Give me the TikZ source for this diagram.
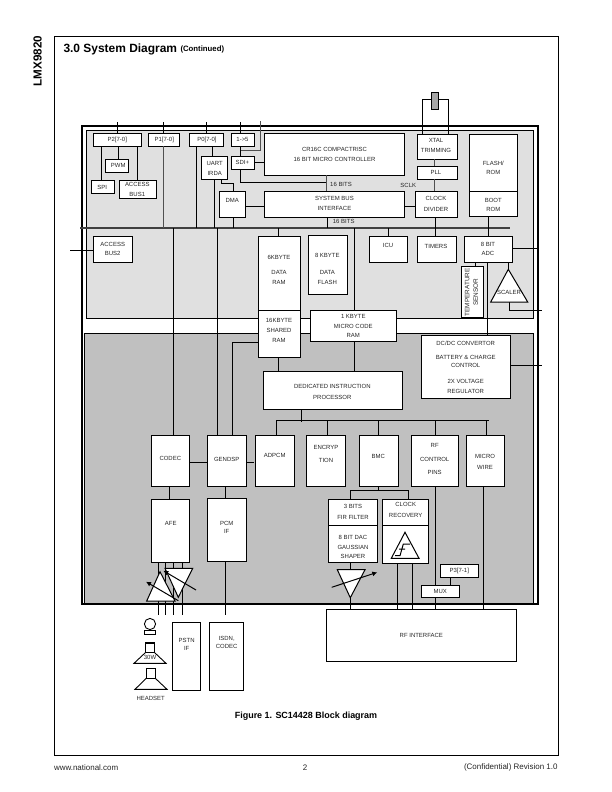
\documentclass[tikz,border=0pt]{standalone}
\usepackage{fontspec}
\setmainfont{Liberation Sans}
\usetikzlibrary{arrows.meta}
\definecolor{lightfill}{HTML}{E0E0E0}
\definecolor{darkfill}{HTML}{C0C0C0}
\definecolor{thickgrey}{HTML}{505050}
\tikzset{
  boxnode/.style={draw=black,fill=white,line width=1pt,inner sep=0pt,outer sep=0pt,rectangle},
  lbl/.style={inner sep=0pt,outer sep=0pt,align=center,text=black!85},
  wire/.style={line width=0.9pt,draw=black},
  heavy/.style={line width=1.3pt,draw=thickgrey},
  tri/.style={draw=black,fill=white,line width=1pt,line join=miter},
  gainarrow/.style={line width=1pt,-{Latex[length=5pt,width=5pt]}},
}
% box: name, x1, y1, x2, y2
\newcommand{\bx}[5]{\node[boxnode,minimum width={(#4-#2)*1bp},minimum height={(#5-#3)*1bp}] (#1) at ({(#2+#4)/2},{(#3+#5)/2}) {};}
% text: name, x, y, baselineskip, text
\newcommand{\lb}[5]{\node[lbl,font=\fontsize{6}{#4}\selectfont] (#1) at (#2,#3) {#5};}
\begin{document}
\begin{tikzpicture}[x=1bp,y=-1bp]
\useasboundingbox (0,0) rectangle (612,792);
\fill[white] (0,0) rectangle (612,792);
% page frame
\node[draw=black,line width=1pt,inner sep=0pt,minimum width=504bp,minimum height=719.5bp] (page) at (306.3,396.2) {};
\node[lbl,anchor=base west,font=\bfseries\fontsize{12}{14}\selectfont,text=black] (title) at (63.5,52.5) {3.0 System Diagram};
\node[lbl,anchor=base west,font=\bfseries\fontsize{7.8}{9}\selectfont,text=black] (cont) at (180.5,52) {(Continued)};
\node[lbl,rotate=90,font=\bfseries\fontsize{11.7}{13}\selectfont,text=black] (part) at (37.7,61) {LMX9820};
\node[lbl,font=\bfseries\fontsize{9}{11}\selectfont,text=black] (cap) at (306,716) {Figure 1. SC14428 Block diagram};
\node[lbl,anchor=west,font=\fontsize{8}{9}\selectfont] (web) at (54,767.7) {www.national.com};
\node[lbl,font=\fontsize{8}{9}\selectfont] (pg) at (305,767.7) {2};
\node[lbl,anchor=east,font=\fontsize{8}{9}\selectfont] (rev) at (557.5,767.7) {(Confidential) Revision 1.0};
% regions
\draw[fill=lightfill,line width=0.9pt] (86.7,130.3) rectangle (533.3,318.3);
\draw[fill=darkfill,line width=0.9pt] (84.7,333.3) rectangle (533.3,604.3);
\node[draw=black,line width=2pt,inner sep=0pt,minimum width=455.4bp,minimum height=478.3bp] (chip) at (310,365.2) {};
% boxes
\bx{p2}{93.3}{133.3}{141.3}{146.3}
\bx{p1}{148.7}{133.3}{179.7}{146.3}
\bx{p0}{189.7}{133.3}{223.7}{146.3}
\bx{io}{231.3}{133.3}{254.3}{146.3}
\bx{sdi}{231.3}{156.3}{254.3}{169.3}
\bx{cr}{264.3}{133.7}{404.3}{175.3}
\bx{pwm}{105.7}{159.3}{128.3}{172.3}
\bx{spi}{91.3}{180.3}{114.7}{193.3}
\bx{ab1}{119.3}{180.3}{156.3}{198.3}
\bx{uart}{201.3}{156.3}{227.7}{179.3}
\bx{dma}{219.3}{191.3}{245.3}{217.3}
\bx{sys}{264.3}{191.3}{404.3}{217.3}
\bx{ab2}{93.3}{236.3}{132.3}{262.3}
\bx{dram}{258.3}{236.3}{300.3}{310.3}
\bx{sram}{258.3}{310.3}{300.3}{357.3}
\bx{dflash}{308.3}{235.3}{347.3}{294.3}
\bx{icu}{369.3}{236.3}{407.7}{262.3}
\bx{tim}{417.3}{236.3}{456.3}{262.3}
\bx{adc}{464.3}{236.3}{512.7}{262.3}
\bx{temp}{461.3}{266.3}{483.7}{317}
\bx{xtal}{417.3}{134.7}{457.7}{159.3}
\bx{pll}{417.3}{166.3}{457.7}{179.3}
\bx{clk}{415.3}{191.3}{457.7}{217.3}
\bx{flash}{469.3}{134.3}{517.7}{191.3}
\bx{boot}{469.3}{191.3}{517.7}{216.3}
\bx{ucode}{310.3}{310.3}{396.7}{341.3}
\bx{dcdc}{421.3}{335.3}{510.7}{398.3}
\bx{ded}{263.3}{371}{402.7}{409.3}
\bx{codec}{151.3}{435.3}{189.7}{486.3}
\bx{gen}{207.3}{435.3}{246.7}{486.3}
\bx{adpcm}{255.3}{435.3}{294.7}{486.3}
\bx{enc}{306.3}{435.3}{345.7}{486.3}
\bx{bmc}{359.3}{435.3}{398.7}{486.3}
\bx{rfc}{411.3}{435.3}{458.7}{486.3}
\bx{mw}{466.3}{435.3}{504.7}{486.3}
\bx{afe}{151.3}{499.3}{189.7}{562.7}
\bx{pcm}{207.3}{498.3}{246.7}{561.7}
\bx{fir}{328.3}{499.3}{377.3}{525.3}
\bx{dac}{328.3}{525.3}{377.3}{562.7}
\bx{rec}{382.3}{499.3}{428.3}{525.3}
\bx{cmp}{382.3}{525.3}{428.3}{563.3}
\bx{p3}{440.3}{564.3}{478.7}{577.3}
\bx{mux}{421.3}{585.3}{459.7}{597.7}
\bx{rfi}{326.3}{609.3}{516.3}{661.3}
\bx{pstn}{172.3}{622.3}{200.3}{690.3}
\bx{isdn}{209.3}{622.3}{243.3}{690.3}
% buses and free ends
\coordinate (busL) at (80,228);
\coordinate (busR) at (510,228);
\coordinate (busB) at (276,420.3);
\coordinate (busE) at (489,420.3);
\coordinate (pinTop) at (0,122.3);
\coordinate (pinBot) at (0,614.7);
\coordinate (edgeR) at (537.7,0);
\coordinate (outR) at (542,0);
\draw[line width=1.2pt,draw=black!75] (busL) -- (busR);
\draw[wire] (busB) -- (busE);
% top pins
\draw[wire] (pinTop -| 117.3,0) -- (p2.north -| 117.3,0);
\draw[wire] (pinTop -| 163.3,0) -- (p1.north -| 163.3,0);
\draw[wire] (pinTop -| 206.3,0) -- (p0.north -| 206.3,0);
\draw[wire] (pinTop -| 240.3,0) -- (io.north -| 240.3,0);
\draw[heavy] (260.3,121) -- (260.3,150.7) -- (240.3,150.7);
\draw[wire] (io.south -| 240.3,0) -- (sdi.north -| 240.3,0);
% port wiring
\draw[wire] (p2.south -| 101,0) -- (spi.north -| 101,0);
\draw[wire] (p2.south -| 118.3,0) -- (pwm.north -| 118.3,0);
\draw[wire] (p2.south -| 137.3,0) -- (ab1.north -| 137.3,0);
\draw[heavy] (p1.south -| 163.7,0) -- (busL -| 163.7,0);
\draw[wire] (p0.south -| 196.3,0) -- (busL -| 196.3,0);
\draw[wire] (p0.south -| 212.3,0) -- (uart.north -| 212.3,0);
\draw[wire] (uart.south -| 214.3,0) -- (busL -| 214.3,0);
\draw[wire] (uart.south -| 221.3,0) -- (221.3,183.3) -- (233.3,183.3) -- (dma.north -| 233.3,0);
\draw[wire] (sdi.east |- 0,162.7) -- (cr.west |- 0,162.7);
\draw[wire] (sdi.south -| 240.3,0) -- (240.3,182.3) -- (326.7,182.3);
\draw[heavy] (cr.south -| 326.7,0) -- (sys.north -| 326.7,0);
\draw[wire] (dma.east |- 0,206.3) -- (sys.west |- 0,206.3);
\draw[wire] (dma.south -| 233.3,0) -- (busL -| 233.3,0);
\draw[wire] (sys.south -| 327.3,0) -- (busL -| 327.3,0);
\draw[wire] (sys.east |- 0,206.7) -- (clk.west |- 0,206.7);
\draw[wire] (busL -| 278.3,0) -- (dram.north -| 278.3,0);
\draw[wire] (busL -| 173.3,0) -- (codec.north -| 173.3,0);
\draw[wire] (busL -| 217.3,0) -- (gen.north -| 217.3,0);
\draw[wire] (busL -| 354.3,0) -- (ucode.north -| 354.3,0);
\draw[wire] (busL -| 388.3,0) -- (icu.north -| 388.3,0);
\draw[wire] (clk.south -| 435.3,0) -- (tim.north -| 435.3,0);
\draw[wire] (boot.south -| 488.3,0) -- (adc.north -| 488.3,0);
\draw[wire] (adc.south -| 475.7,0) -- (temp.north -| 475.7,0);
\draw[wire] (adc.south -| 487.3,0) -- (dcdc.north -| 487.3,0);
\draw[wire] (adc.south -| 508.3,0) -- (508.3,269.3);
\draw[wire] (adc.east |- 0,248.3) -- (edgeR |- 0,248.3);
\draw[wire] (ab2.west |- 0,250) -- (70,250);
\draw[heavy] (xtal.south -| 434.7,0) -- (pll.north -| 434.7,0);
\draw[heavy] (pll.south -| 434.3,0) -- (clk.north -| 434.3,0);
% crystal
\draw[wire] (xtal.north -| 422.3,0) -- (422.3,99.3) -- (431.7,99.3);
\draw[wire] (xtal.north -| 448.3,0) -- (448.3,99.3) -- (439,99.3);
\node[draw=black,fill=black!35,line width=1pt,inner sep=0pt,minimum width=7.3bp,minimum height=17bp] (crystal) at (435.3,100.8) {};
% lower wiring
\draw[line width=1.5pt] (sram.west |- 0,342.7) -- (232.7,342.7) -- (gen.north -| 232.7,0);
\draw[wire] (sram.south -| 278.3,0) -- (ded.north -| 278.3,0);
\draw[wire] (ucode.south -| 354.3,0) -- (ded.north -| 354.3,0);
\draw[wire] (ded.south -| 301.3,0) -- (301.3,421.7);
\draw[wire] (busB -| 276.3,0) -- (adpcm.north -| 276.3,0);
\draw[wire] (busB -| 327.3,0) -- (enc.north -| 327.3,0);
\draw[wire] (busB -| 378.7,0) -- (bmc.north -| 378.7,0);
\draw[wire] (busB -| 435.3,0) -- (rfc.north -| 435.3,0);
\draw[wire] (busB -| 486.3,0) -- (mw.north -| 486.3,0);
\draw[wire] (codec.east |- 0,462.3) -- (gen.west |- 0,462.3);
\draw[wire] (gen.east |- 0,462.3) -- (253.7,462.3);
\draw[wire] (codec.south -| 169.3,0) -- (afe.north -| 169.3,0);
\draw[wire] (gen.south -| 225.3,0) -- (pcm.north -| 225.3,0);
\draw[wire] (dcdc.east |- 0,365.3) -- (outR |- 0,365.3);
\draw[wire] (bmc.south -| 378.7,0) -- (378.7,490.3);
\draw[wire] (fir.north -| 350.3,0) -- (350.3,490.3) -- (408.3,490.3) -- (rec.north -| 408.3,0);
\draw[wire] (rfc.south -| 435.7,0) -- (mux.north -| 435.7,0);
\draw[wire] (mw.south -| 483.3,0) -- (rfi.north -| 483.3,0);
\draw[wire] (p3.south -| 450.3,0) -- (mux.north -| 450.3,0);
\draw[wire] (mux.south -| 435.7,0) -- (rfi.north -| 435.7,0);
\draw[wire] (cmp.south -| 397.7,0) -- (rfi.north -| 397.7,0);
\draw[wire] (cmp.south -| 412.3,0) -- (rfi.north -| 412.3,0);
\draw[wire] (dac.south -| 350.3,0) -- (rfi.north -| 350.3,0);
\draw[wire] (afe.south -| 158.3,0) -- (pinBot -| 158.3,0);
\draw[wire] (afe.south -| 165.3,0) -- (pinBot -| 165.3,0);
\draw[wire] (afe.south -| 173.3,0) -- (pinBot -| 173.3,0);
\draw[wire] (afe.south -| 182.3,0) -- (pinBot -| 182.3,0);
\draw[wire] (pcm.south -| 225.3,0) -- (pinBot -| 225.3,0);
% scaler
\draw[wire] (509.3,302) -- (509.3,310.3) -- (outR |- 0,310.3);
\draw[tri] (508.3,269.3) -- (527.7,302) -- (490.7,302) -- cycle;
% dac amplifier
\draw[tri] (337.3,569.7) -- (365,569.7) -- (350.3,597.7) -- cycle;
\draw[gainarrow] (331.7,587.3) -- (377.3,572.3);
% comparator
\draw[tri] (405,532.3) -- (419,558.3) -- (391.3,558.3) -- cycle;
\draw[line width=1pt] (395,555.7) -- (400,555.7) -- (403.3,544) -- (410,544) (399,549) -- (405,549);
% audio amplifiers
\draw[tri] (165,568.3) -- (192.7,568.3) -- (178.3,597.3) -- cycle;
\draw[tri] (160,571.7) -- (175,601) -- (146.7,601) -- cycle;
\draw[gainarrow] (178.3,600.7) -- (146,581.7);
\draw[gainarrow] (196,590) -- (163.3,570.7);
% earpiece and speakers
\draw[line width=0.9pt] (150,624) circle[radius=5.6];
\draw[fill=white,line width=0.9pt] (144.3,630.3) rectangle (155.7,634.7);
\draw[line width=0.9pt,line join=miter] (145.3,652.7) -- (134,663.3) -- (166,663.3) -- (154.7,652.7);
\draw[line width=0.9pt] (145.3,642.7) rectangle (154.7,652.7);
\draw[line width=1.6pt] (145,642.7) -- (155,642.7);
\draw[line width=0.9pt,line join=miter] (146.3,678.3) -- (135,689.3) -- (167,689.3) -- (155.3,678.3);
\draw[line width=0.9pt] (146.3,668.3) rectangle (155.3,678.3);
% labels
\lb{t1}{117.3}{139.8}{7}{P2[7-0]}
\lb{t2}{164.3}{139.8}{7}{P1[7-0]}
\lb{t3}{207}{139.8}{7}{P0[7-0]}
\lb{t4}{242.5}{139.8}{7}{1->5}
\lb{t5}{242.3}{162.7}{7}{SDI+}
\lb{t6}{118.3}{165.7}{7}{PWM}
\lb{t7}{102.3}{187.7}{7}{SPI}
\lb{t8}{137.3}{189}{10}{ACCESS\\BUS1}
\lb{t9}{214.7}{168.4}{9.5}{UART\\IRDA}
\lb{t10}{232.3}{200.7}{7}{DMA}
\lb{t11}{112.7}{249.2}{9}{ACCESS\\BUS2}
\lb{t12}{334.5}{154.5}{10.4}{CR16C COMPACTRISC\\16 BIT MICRO CONTROLLER}
\lb{t13}{334.5}{203.7}{10}{SYSTEM BUS\\INTERFACE}
\lb{t14}{341}{184.7}{7}{16 BITS}
\lb{t15}{343.7}{221.7}{7}{16 BITS}
\lb{t16}{408.3}{185.7}{7}{SCLK}
\lb{t17}{436}{145.7}{10}{XTAL\\TRIMMING}
\lb{t18}{436}{172.3}{7}{PLL}
\lb{t19}{436}{203.7}{11.3}{CLOCK\\DIVIDER}
\lb{t20}{493.3}{168.2}{9}{FLASH/\\ROM}
\lb{t21}{493.3}{205.3}{9.3}{BOOT\\ROM}
\lb{t22}{279}{270.2}{10}{6KBYTE\\[5pt]DATA\\RAM}
\lb{t23}{279}{330.7}{10}{16KBYTE\\SHARED\\RAM}
\lb{t24}{327.3}{269.2}{10}{8 KBYTE\\[7pt]DATA\\FLASH}
\lb{t25}{388}{245.7}{7}{ICU}
\lb{t26}{436}{246.3}{7}{TIMERS}
\lb{t27}{488}{248.8}{9}{8 BIT\\ADC}
\node[lbl,rotate=90,font=\fontsize{6.4}{8.4}\selectfont] (t28) at (471.5,292.3) {TEMPERATURE\\SENSOR};
\lb{t29}{509}{292.7}{7}{SCALER}
\lb{t30}{353.3}{326.2}{9.5}{1 KBYTE\\MICRO CODE\\RAM}
\lb{t31}{465.7}{367.7}{8}{DC/DC CONVERTOR\\[6pt]BATTERY \& CHARGE\\CONTROL\\[8pt]2X VOLTAGE\\[2pt]REGULATOR}
\lb{t32}{332.3}{391.8}{11.7}{DEDICATED INSTRUCTION\\PROCESSOR}
\lb{t33}{170.3}{458.7}{7}{CODEC}
\lb{t34}{226.7}{459.7}{7}{GENDSP}
\lb{t35}{274.7}{455.7}{7}{ADPCM}
\lb{t36}{326}{453.5}{13}{ENCRYP\\TION}
\lb{t37}{378.3}{456.7}{7}{BMC}
\lb{t38}{434.7}{459.2}{13.5}{RF\\CONTROL\\PINS}
\lb{t39}{485}{462.2}{11}{MICRO\\WIRE}
\lb{t40}{170.7}{523.7}{7}{AFE}
\lb{t41}{226.7}{527.4}{8.7}{PCM\\IF}
\lb{t42}{353}{512.2}{11}{3 BITS\\FIR FILTER}
\lb{t43}{353}{547.2}{9.5}{8 BIT DAC\\GAUSSIAN\\SHAPER}
\lb{t44}{405.7}{510.2}{11}{CLOCK\\RECOVERY}
\lb{t45}{459.3}{571}{7}{P3[7-1]}
\lb{t46}{440.3}{591}{7}{MUX}
\lb{t47}{421.3}{635.7}{7}{RF INTERFACE}
\lb{t48}{186.7}{644.7}{8}{PSTN\\IF}
\lb{t49}{226.7}{642.7}{8}{ISDN,\\CODEC}
\lb{t50}{150}{657.7}{7}{30W}
\lb{t51}{150.7}{698.7}{7}{HEADSET}
\end{tikzpicture}
\end{document}
